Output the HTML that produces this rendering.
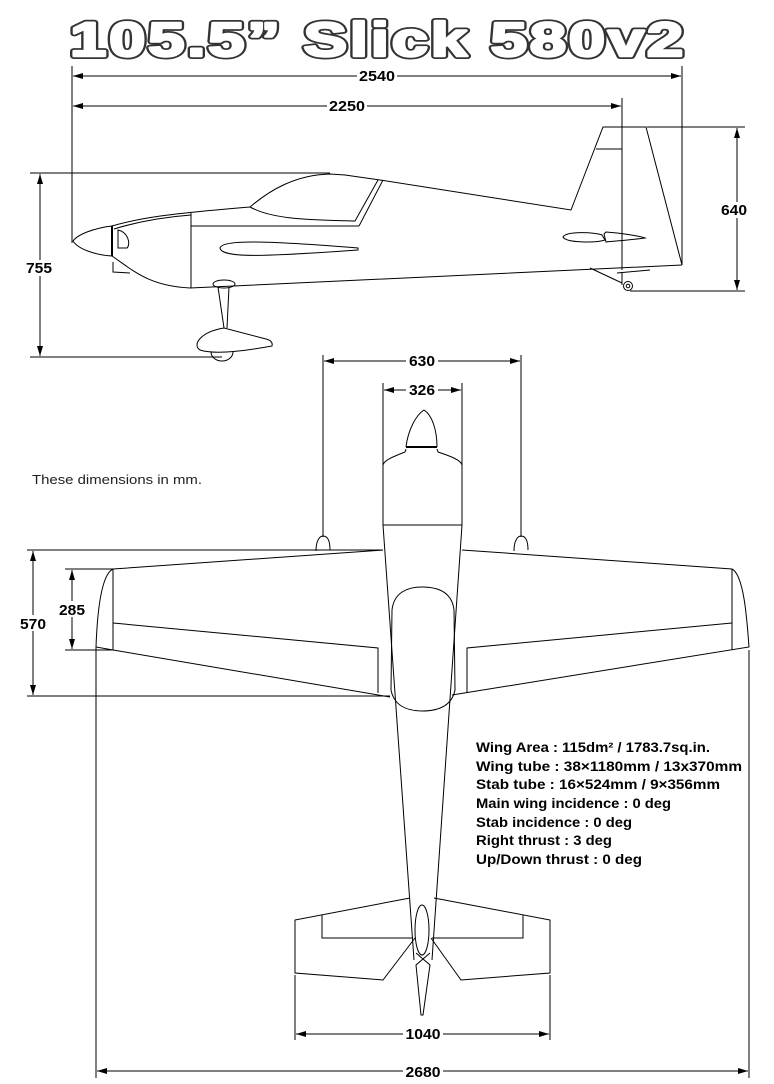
<!DOCTYPE html>
<html><head><meta charset="utf-8"><style>html,body{margin:0;padding:0;background:#fff}svg{display:block}</style></head><body>
<svg width="774" height="1084" viewBox="0 0 774 1084" xmlns="http://www.w3.org/2000/svg" font-family="Liberation Sans, sans-serif">
<defs>
<marker id="a" viewBox="0 0 10 6" refX="10" refY="3" markerWidth="10" markerHeight="6" markerUnits="userSpaceOnUse" orient="auto-start-reverse"><path d="M0,0L10,3L0,6z" fill="#000"/></marker>
</defs>
<rect width="774" height="1084" fill="#fff"/>
<text x="378" y="56" text-anchor="middle" font-size="48" font-weight="bold" fill="#fff" stroke="#333" stroke-width="6" stroke-linejoin="round" textLength="616" lengthAdjust="spacingAndGlyphs" letter-spacing="2">105.5” Slick 580v2</text>
<text x="378" y="56" text-anchor="middle" font-size="48" font-weight="bold" fill="#fff" stroke="#fff" stroke-width="2.5" stroke-linejoin="round" textLength="616" lengthAdjust="spacingAndGlyphs" letter-spacing="2">105.5” Slick 580v2</text>

<g stroke="#000" stroke-width="1" fill="none">
<line x1="72" y1="66" x2="72" y2="243"/><line x1="682" y1="66" x2="682" y2="265"/>
<line x1="622" y1="98" x2="622" y2="270"/>
<line x1="73" y1="76" x2="681" y2="76" marker-start="url(#a)" marker-end="url(#a)"/>
<line x1="73" y1="106" x2="621" y2="106" marker-start="url(#a)" marker-end="url(#a)"/>
<line x1="647" y1="127" x2="745" y2="127"/><line x1="630" y1="291" x2="745" y2="291"/>
<line x1="737" y1="128" x2="737" y2="290" marker-start="url(#a)" marker-end="url(#a)"/>
<line x1="30" y1="173" x2="330" y2="173"/><line x1="30" y1="357" x2="222" y2="357"/>
<line x1="40" y1="174" x2="40" y2="356" marker-start="url(#a)" marker-end="url(#a)"/>

<path d="M112,226 C95,228 78,234 73,241 C78,249 95,255 112,256"/>
<line x1="112" y1="226" x2="112" y2="256" stroke-width="2"/>
<path d="M112,226 C140,218 165,214 250,207"/>
<path d="M114,229 C140,221 165,217 191,215"/>
<path d="M250,207 C270,190 295,175 330,174 L345,175 L380,180"/>
<path d="M250,207 C270,218 300,220 355,221 L378,180"/>
<path d="M359,226 L383,180"/>
<line x1="191" y1="213" x2="191" y2="288"/>
<line x1="191" y1="226" x2="359" y2="226"/>
<path d="M380,180 L571,210 L603,127 L646,127 L682,265"/>
<line x1="596" y1="149" x2="622" y2="149"/>
<path d="M112,256 C135,272 150,286 190,288 L682,265"/>
<path d="M113,262 L113,272 L130,273"/>
<path d="M118,230 C128,232 131,244 127,248 L118,248 Z"/>
<path d="M220,248 C222,240 260,240 358,248 L358,250 C260,257 222,258 220,248 Z"/>
<ellipse cx="224" cy="284" rx="11" ry="4"/>
<path d="M218,287 L224,328 M229,287 L227,328"/>
<path d="M224,328 C200,332 192,345 200,350 C215,355 250,350 272,346 C273,342 270,340 266,339 Z"/>
<path d="M211,352 A11,9 0 0 0 233,352"/>
<path d="M563,237 C566,231 595,232 602,235 L605,240 C596,243 566,243 563,237 Z"/>
<path d="M604,234 L606,232 C620,233 640,236 645,238 C630,240 615,241 606,242 Z"/>
<path d="M590,268 L622,283"/>
<path d="M622,272 L622,285 M617,273 L650,270"/>
<circle cx="628" cy="286" r="4.5"/><circle cx="628" cy="286" r="1.8"/>

<line x1="323" y1="355" x2="323" y2="537"/><line x1="521" y1="355" x2="521" y2="537"/>
<line x1="324" y1="361" x2="520" y2="361" marker-start="url(#a)" marker-end="url(#a)"/>
<line x1="383" y1="383" x2="383" y2="465"/><line x1="462" y1="383" x2="462" y2="465"/>
<line x1="384" y1="390" x2="461" y2="390" marker-start="url(#a)" marker-end="url(#a)"/>
<line x1="27" y1="550" x2="383" y2="550"/><line x1="27" y1="696" x2="390" y2="696"/>
<line x1="33" y1="551" x2="33" y2="695" marker-start="url(#a)" marker-end="url(#a)"/>
<line x1="65" y1="569" x2="113" y2="569"/><line x1="65" y1="650" x2="113" y2="650"/>
<line x1="72" y1="570" x2="72" y2="649" marker-start="url(#a)" marker-end="url(#a)"/>
<line x1="96" y1="647" x2="96" y2="1078"/><line x1="749" y1="650" x2="749" y2="1078"/>
<line x1="97" y1="1071" x2="748" y2="1071" marker-start="url(#a)" marker-end="url(#a)"/>
<line x1="295" y1="975" x2="295" y2="1040"/><line x1="550" y1="975" x2="550" y2="1040"/>
<line x1="296" y1="1034" x2="549" y2="1034" marker-start="url(#a)" marker-end="url(#a)"/>

<path d="M406,447 C408,430 416,415 424,410 C432,415 437,430 437,447"/>
<line x1="406" y1="447" x2="437" y2="447" stroke-width="2"/>
<path d="M406,449 L405,452 C395,456 384,460 383,465 L383,525 L414,960"/>
<path d="M437,449 L438,452 C450,456 461,460 462,465 L462,525 L432,960"/>
<line x1="383" y1="525" x2="462" y2="525"/>
<path d="M392,610 C394,592 408,587 422,587 C438,587 452,592 454,610 L455,690 C452,705 440,711 422,711 C406,711 394,705 391,690 Z"/>
<path d="M383,550 L113,569 C100,575 97,620 96,647 L113,650 L390,697"/>
<line x1="113" y1="569" x2="113" y2="650"/>
<path d="M113,623 L378,648 L378,693"/>
<path d="M462,550 L732,569 C744,575 747,620 749,647 L452,695"/>
<line x1="732" y1="569" x2="732" y2="650"/>
<path d="M732,623 L467,648 L467,693"/>
<path d="M316,551 C316,540 320,536 323,536 C327,536 330,540 330,550"/>
<path d="M514,551 C514,540 518,536 521,536 C525,536 528,540 528,550"/>
<path d="M410,898 L295,920 L295,973 L383,980 L415,938"/>
<path d="M322,915 L322,938 L413,938"/>
<path d="M434,898 L550,920 L550,973 L461,980 L431,938"/>
<path d="M523,915 L523,938 L432,938"/>
<ellipse cx="422" cy="930" rx="7" ry="25"/>
<path d="M416,953 L430,965 L423,1015 L421,1015 L416,965 L430,953"/>
</g>

<g font-weight="bold" font-size="15" text-anchor="middle" fill="#000">
<rect x="357" y="68" width="40" height="14" fill="#fff"/><text x="377" y="81" textLength="36" lengthAdjust="spacingAndGlyphs">2540</text>
<rect x="327" y="98" width="40" height="14" fill="#fff"/><text x="347" y="111" textLength="36" lengthAdjust="spacingAndGlyphs">2250</text>
<rect x="720" y="202" width="30" height="16" fill="#fff"/><text x="734" y="215" textLength="26" lengthAdjust="spacingAndGlyphs">640</text>
<rect x="24" y="260" width="30" height="16" fill="#fff"/><text x="39" y="273" textLength="26" lengthAdjust="spacingAndGlyphs">755</text>
<rect x="406" y="353" width="32" height="14" fill="#fff"/><text x="422" y="366" textLength="26" lengthAdjust="spacingAndGlyphs">630</text>
<rect x="406" y="382" width="32" height="14" fill="#fff"/><text x="422" y="395" textLength="26" lengthAdjust="spacingAndGlyphs">326</text>
<rect x="18" y="615" width="30" height="16" fill="#fff"/><text x="33" y="629" textLength="26" lengthAdjust="spacingAndGlyphs">570</text>
<rect x="58" y="601" width="30" height="16" fill="#fff"/><text x="72" y="615" textLength="26" lengthAdjust="spacingAndGlyphs">285</text>
<rect x="403" y="1026" width="40" height="14" fill="#fff"/><text x="423" y="1039" textLength="35" lengthAdjust="spacingAndGlyphs">1040</text>
<rect x="403" y="1063" width="40" height="15" fill="#fff"/><text x="423" y="1077" textLength="35" lengthAdjust="spacingAndGlyphs">2680</text>
</g>

<text x="32" y="484" font-size="13" fill="#222" textLength="170" lengthAdjust="spacingAndGlyphs">These dimensions in mm.</text>
<g font-size="13.5" font-weight="bold" fill="#000">
<text x="476" y="752" textLength="234" lengthAdjust="spacingAndGlyphs">Wing Area : 115dm² / 1783.7sq.in.</text>
<text x="476" y="771" textLength="266" lengthAdjust="spacingAndGlyphs">Wing tube :  38×1180mm / 13x370mm</text>
<text x="476" y="789" textLength="244" lengthAdjust="spacingAndGlyphs">Stab tube :  16×524mm / 9×356mm</text>
<text x="476" y="808" textLength="195" lengthAdjust="spacingAndGlyphs">Main wing incidence :  0 deg</text>
<text x="476" y="827" textLength="156" lengthAdjust="spacingAndGlyphs">Stab incidence :  0 deg</text>
<text x="476" y="845" textLength="136" lengthAdjust="spacingAndGlyphs">Right thrust :  3 deg</text>
<text x="476" y="864" textLength="166" lengthAdjust="spacingAndGlyphs">Up/Down thrust :  0 deg</text>
</g>
</svg>
</body></html>
